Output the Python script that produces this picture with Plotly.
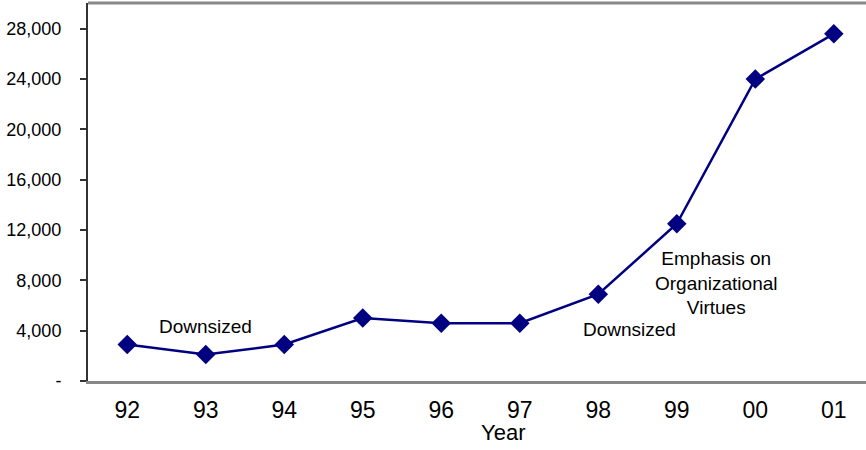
import plotly.graph_objects as go

years = ["92", "93", "94", "95", "96", "97", "98", "99", "00", "01"]
values = [2900, 2100, 2900, 5000, 4600, 4600, 6900, 12500, 24000, 27600]
ytick_vals = [0, 4000, 8000, 12000, 16000, 20000, 24000, 28000]
ytick_text = ["-", "4,000", "8,000", "12,000", "16,000", "20,000", "24,000", "28,000"]

FONT = "Liberation Sans, Arial, sans-serif"
NAVY = "#000080"
PAD = "\u00a0" * 3

fig = go.Figure()
fig.add_trace(go.Scatter(
    x=list(range(len(years))), y=values, mode="lines+markers",
    line=dict(color=NAVY, width=2.5),
    marker=dict(symbol="diamond", size=15, color=NAVY),
    showlegend=False, hoverinfo="skip",
))

fig.add_annotation(x=1.0, y=4300, text="Downsized", showarrow=False,
                   font=dict(family=FONT, size=19, color="black"), xanchor="center", yanchor="middle")
fig.add_annotation(x=6.4, y=4100, text="Downsized", showarrow=False,
                   font=dict(family=FONT, size=19, color="black"), xanchor="center", yanchor="middle")
fig.add_annotation(x=7.5, y=7800, text="Emphasis on<br>Organizational<br>Virtues", showarrow=False,
                   font=dict(family=FONT, size=19, color="black"), xanchor="center", yanchor="middle",
                   align="center")
fig.add_annotation(x=0.533, y=-0.135, xref="paper", yref="paper", text="Year", showarrow=False,
                   font=dict(family=FONT, size=22, color="black"), xanchor="center", yanchor="middle")

fig.add_shape(type="line", xref="paper", yref="paper", x0=0, x1=1, y0=1, y1=1,
              line=dict(color="#888888", width=3))

fig.update_xaxes(
    range=[-0.5, 9.41], tickvals=list(range(len(years))), ticktext=years,
    showgrid=False, zeroline=False, showline=True, linecolor="#888888", linewidth=3,
    ticks="", ticklabelstandoff=6, tickfont=dict(family=FONT, size=23, color="black"),
)
fig.update_yaxes(
    range=[0, 30050], tickvals=ytick_vals, ticktext=[t + PAD for t in ytick_text],
    showgrid=False, zeroline=False, showline=True, linecolor="#333333", linewidth=2,
    ticks="outside", ticklen=6, tickcolor="#333333", tickwidth=1.5,
    tickfont=dict(family=FONT, size=18, color="black"),
)
fig.update_layout(
    width=866, height=450, margin=dict(l=88, r=0, t=3, b=69),
    paper_bgcolor="white", plot_bgcolor="white",
)
fig.write_html("out.html", config={"displayModeBar": False},
               post_script="document.body.style.margin='0';document.body.style.overflow='hidden';")
